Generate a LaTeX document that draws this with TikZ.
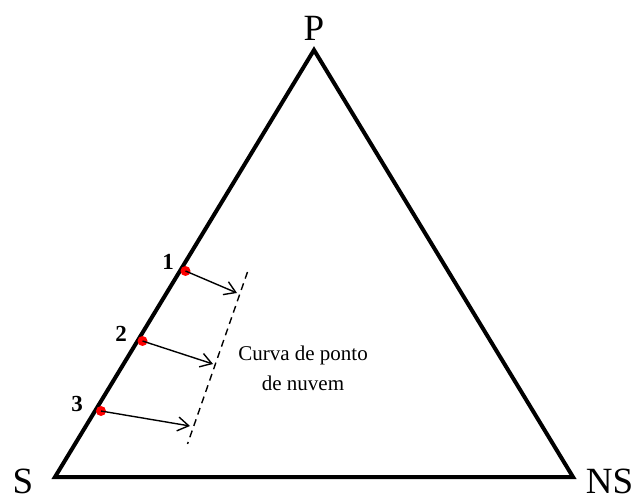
\documentclass[tikz,border=0pt]{standalone}
\usepackage{fontspec}
\setmainfont{Liberation Serif}
\usetikzlibrary{arrows.meta}
\begin{document}
\begin{tikzpicture}[x=1pt,y=-1pt,
  edge/.style={line width=4pt, line join=miter},
  dotnode/.style={circle, fill=red, inner sep=0pt, minimum size=10pt},
  arr/.style={line width=1.4pt, -{Straight Barb[length=11pt,width=14pt,line width=1.4pt]}},
  vlabel/.style={font=\fontsize{37}{39}\selectfont, inner sep=0pt},
  numlabel/.style={font=\bfseries\fontsize{23}{25}\selectfont, inner sep=0pt},
  curvelabel/.style={font=\fontsize{21}{30}\selectfont, align=center, inner sep=0pt}]
\useasboundingbox (0,0) rectangle (637,502);
\coordinate (P) at (314,50);
\coordinate (S) at (55,477);
\coordinate (NS) at (573,477);
\draw[edge] (P) -- (S) -- (NS) -- cycle;
\node[vlabel] (lP) at (314,28) {P};
\node[vlabel] (lS) at (23,481) {S};
\node[vlabel] (lNS) at (609.5,481) {NS};
\node[dotnode] (d1) at (185.5,271) {};
\node[dotnode] (d2) at (142.5,341) {};
\node[dotnode] (d3) at (101,411) {};
\node[numlabel] (n1) at (168,262) {1};
\node[numlabel] (n2) at (121,334) {2};
\node[numlabel] (n3) at (77,404) {3};
\coordinate (e1) at (237,293);
\coordinate (e2) at (213,364);
\coordinate (e3) at (190,426);
\draw[arr] (d1.center) -- (e1);
\draw[arr] (d2.center) -- (e2);
\draw[arr] (d3.center) -- (e3);
\coordinate (c1) at (247.5,272);
\coordinate (c2) at (187.5,444);
\draw[line width=1.4pt, dash pattern=on 7pt off 5pt] (c1) -- (c2);
\node[curvelabel] (txt) at (303,368) {Curva de ponto\\de nuvem};
\end{tikzpicture}
\end{document}
